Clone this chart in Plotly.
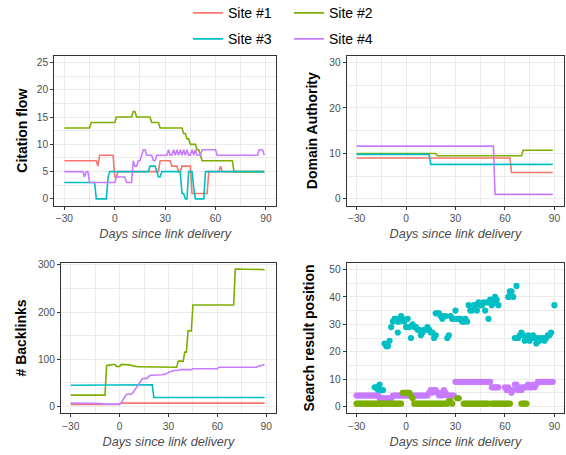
import plotly.graph_objects as go

# ---------------- data ----------------
days = list(range(-30, 90))
sites = ["Site #1", "Site #2", "Site #3", "Site #4"]
colors = ["#F8766D", "#7CAE00", "#00BFC4", "#C77CFF"]

# Citation flow (days -30..89)
cf_site1 = [7, 7, 7, 7, 7, 7, 7, 7, 7, 7,
            7, 7, 7, 7, 7, 7, 7, 7, 7, 7,
            6, 8, 8, 8, 8, 8, 8, 8, 8, 8,
            4, 4, 5, 5, 5, 5, 5, 5, 5, 5,
            5, 5, 5, 5, 5, 5, 5, 5, 5, 5,
            5, 5, 5, 5, 5, 5, 5, 7, 7, 7,
            7, 7, 7, 7, 6, 6, 6, 6, 5, 5,
            6, 6, 6, 6, 6, 6, 1, 1, 1, 1,
            1, 1, 1, 1, 1, 1, 5, 5, 5, 5,
            5, 5, 5, 6, 5, 5, 5, 5, 5, 5,
            5, 5, 5, 5, 5, 5, 5, 5, 5, 5,
            5, 5, 5, 5, 5, 5, 5, 5, 5, 5]
cf_site2 = [13, 13, 13, 13, 13, 13, 13, 13, 13, 13,
            13, 13, 13, 13, 13, 13, 14, 14, 14, 14,
            14, 14, 14, 14, 14, 14, 14, 14, 14, 14,
            14, 15, 15, 15, 15, 15, 15, 15, 15, 15,
            15, 16, 16, 15, 15, 15, 15, 15, 15, 15,
            15, 15, 14, 14, 14, 14, 14, 13, 13, 13,
            13, 13, 13, 13, 13, 13, 13, 13, 13, 13,
            13, 12, 12, 11, 11, 10, 10, 10, 10, 9,
            9, 8, 7, 7, 7, 7, 7, 7, 7, 7,
            7, 7, 7, 7, 7, 7, 7, 7, 7, 7,
            7, 5, 5, 5, 5, 5, 5, 5, 5, 5,
            5, 5, 5, 5, 5, 5, 5, 5, 5, 5]
cf_site3 = [3, 3, 3, 3, 3, 3, 3, 3, 3, 3,
            3, 3, 3, 3, 3, 3, 3, 3, 3, 0,
            0, 0, 0, 0, 0, 0, 4, 5, 5, 5,
            5, 5, 5, 5, 5, 5, 5, 5, 5, 5,
            5, 5, 5, 5, 5, 5, 5, 5, 5, 5,
            5, 6, 6, 6, 6, 5, 4, 4, 5, 5,
            5, 5, 5, 5, 5, 5, 5, 5, 5, 5,
            1, 1, 0, 0, 5, 5, 5, 2, 0, 0,
            0, 0, 0, 0, 5, 5, 5, 5, 5, 5,
            5, 5, 5, 5, 5, 5, 5, 5, 5, 5,
            5, 5, 5, 5, 5, 5, 5, 5, 5, 5,
            5, 5, 5, 5, 5, 5, 5, 5, 5, 5]
cf_site4 = [5, 5, 5, 5, 5, 5, 5, 5, 5, 5,
            5, 5, 4, 5, 5, 3, 3, 3, 3, 3,
            3, 3, 3, 3, 3, 3, 3, 3, 3, 3,
            3, 4, 4, 4, 4, 4, 4, 3, 3, 3,
            3, 7, 6, 6, 7, 7, 8, 9, 9, 8,
            8, 8, 8, 7, 7, 8, 8, 8, 8, 8,
            8, 8, 9, 8, 8, 9, 8, 9, 8, 9,
            8, 9, 8, 9, 8, 8, 9, 8, 9, 8,
            8, 8, 9, 9, 9, 9, 9, 9, 9, 9,
            9, 8, 8, 8, 8, 8, 8, 8, 8, 8,
            8, 8, 8, 8, 8, 8, 8, 8, 8, 8,
            8, 8, 8, 8, 8, 8, 9, 9, 9, 8]

# Domain Authority
da_site1 = [9, 9, 9, 9, 9, 9, 9, 9, 9, 9,
            9, 9, 9, 9, 9, 9, 9, 9, 9, 9,
            9, 9, 9, 9, 9, 9, 9, 9, 9, 9,
            9, 9, 9, 9, 9, 9, 9, 9, 9, 9,
            9, 9, 9, 9, 9, 9, 9, 9, 9, 9,
            9, 9, 9, 9, 9, 9, 9, 9, 9, 9,
            9, 9, 9, 9, 9, 9, 9, 9, 9, 9,
            9, 9, 9, 9, 9, 9, 9, 9, 9, 9,
            9, 9, 9, 9, 9, 9, 9, 9, 9, 9,
            9, 9, 9, 9, 5.8, 5.8, 5.8, 5.8, 5.8, 5.8,
            5.8, 5.8, 5.8, 5.8, 5.8, 5.8, 5.8, 5.8, 5.8, 5.8,
            5.8, 5.8, 5.8, 5.8, 5.8, 5.8, 5.8, 5.8, 5.8, 5.8]
da_site2 = [10, 10, 10, 10, 10, 10, 10, 10, 10, 10,
            10, 10, 10, 10, 10, 10, 10, 10, 10, 10,
            10, 10, 10, 10, 10, 10, 10, 10, 10, 10,
            10, 10, 10, 10, 10, 10, 10, 10, 10, 10,
            10, 10, 10, 10, 10, 10, 10, 10, 10, 9.5,
            9.5, 9.5, 9.5, 9.5, 9.5, 9.5, 9.5, 9.5, 9.5, 9.5,
            9.5, 9.5, 9.5, 9.5, 9.5, 9.5, 9.5, 9.5, 9.5, 9.5,
            9.5, 9.5, 9.5, 9.5, 9.5, 9.5, 9.5, 9.5, 9.5, 9.5,
            9.5, 9.5, 9.5, 9.5, 9.5, 9.5, 9.5, 9.5, 9.5, 9.5,
            9.5, 9.5, 9.5, 9.5, 9.5, 9.5, 9.5, 9.5, 9.5, 9.5,
            9.5, 10.7, 10.7, 10.7, 10.7, 10.7, 10.7, 10.7, 10.7, 10.7,
            10.7, 10.7, 10.7, 10.7, 10.7, 10.7, 10.7, 10.7, 10.7, 10.7]
da_site3 = [9.8, 9.8, 9.8, 9.8, 9.8, 9.8, 9.8, 9.8, 9.8, 9.8,
            9.8, 9.8, 9.8, 9.8, 9.8, 9.8, 9.8, 9.8, 9.8, 9.8,
            9.8, 9.8, 9.8, 9.8, 9.8, 9.8, 9.8, 9.8, 9.8, 9.8,
            9.8, 9.8, 9.8, 9.8, 9.8, 9.8, 9.8, 9.8, 9.8, 9.8,
            9.8, 9.8, 9.8, 9.8, 9.8, 7.6, 7.6, 7.6, 7.6, 7.6,
            7.6, 7.6, 7.6, 7.6, 7.6, 7.6, 7.6, 7.6, 7.6, 7.6,
            7.6, 7.6, 7.6, 7.6, 7.6, 7.6, 7.6, 7.6, 7.6, 7.6,
            7.6, 7.6, 7.6, 7.6, 7.6, 7.6, 7.6, 7.6, 7.6, 7.6,
            7.6, 7.6, 7.6, 7.6, 7.6, 7.6, 7.6, 7.6, 7.6, 7.6,
            7.6, 7.6, 7.6, 7.6, 7.6, 7.6, 7.6, 7.6, 7.6, 7.6,
            7.6, 7.6, 7.6, 7.6, 7.6, 7.6, 7.6, 7.6, 7.6, 7.6,
            7.6, 7.6, 7.6, 7.6, 7.6, 7.6, 7.6, 7.6, 7.6, 7.6]
da_site4 = [11.6, 11.6, 11.6, 11.6, 11.6, 11.6, 11.6, 11.6, 11.6, 11.6,
            11.6, 11.6, 11.6, 11.6, 11.6, 11.6, 11.6, 11.6, 11.6, 11.6,
            11.6, 11.6, 11.6, 11.6, 11.6, 11.6, 11.6, 11.6, 11.6, 11.6,
            11.6, 11.6, 11.6, 11.6, 11.6, 11.6, 11.6, 11.6, 11.6, 11.6,
            11.6, 11.6, 11.6, 11.6, 11.6, 11.6, 11.6, 11.6, 11.6, 11.6,
            11.6, 11.6, 11.6, 11.6, 11.6, 11.6, 11.6, 11.6, 11.6, 11.6,
            11.6, 11.6, 11.6, 11.6, 11.6, 11.6, 11.6, 11.6, 11.6, 11.6,
            11.6, 11.6, 11.6, 11.6, 11.6, 11.6, 11.6, 11.6, 11.6, 11.6,
            11.6, 11.6, 11.6, 11.6, 1, 1, 1, 1, 1, 1,
            1, 1, 1, 1, 1, 1, 1, 1, 1, 1,
            1, 1, 1, 1, 1, 1, 1, 1, 1, 1,
            1, 1, 1, 1, 1, 1, 1, 1, 1, 1]

# Number of backlinks
bl_site1 = [4, 4, 4, 4, 4, 4, 4, 4, 4, 4,
            4, 4, 4, 4, 4, 4, 4, 4, 4, 4,
            4, 4, 4, 4, 4, 4, 4, 4, 4, 4,
            4, 7, 7, 7, 7, 7, 7, 7, 7, 7,
            7, 7, 7, 7, 7, 7, 7, 7, 7, 7,
            7, 7, 7, 7, 7, 7, 7, 7, 7, 7,
            7, 7, 7, 7, 7, 7, 7, 7, 7, 7,
            7, 7, 7, 7, 7, 7, 7, 7, 7, 7,
            7, 7, 7, 7, 7, 7, 7, 7, 7, 7,
            7, 7, 7, 7, 7, 7, 7, 7, 7, 7,
            7, 7, 7, 7, 7, 7, 7, 7, 7, 7,
            7, 7, 7, 7, 7, 7, 7, 7, 7, 7]
bl_site2 = [24, 24, 24, 24, 24, 24, 24, 24, 24, 24,
            24, 24, 24, 24, 24, 24, 24, 24, 24, 24,
            24, 24, 87, 87, 88, 88, 89, 89, 85, 85,
            85, 89, 89, 89, 89, 89, 88, 87, 86, 85,
            84, 84, 84, 84, 84, 84, 84, 84, 84, 84,
            84, 83, 83, 83, 83, 83, 83, 83, 83, 83,
            83, 83, 83, 83, 83, 83, 96, 96, 96, 96,
            115, 115, 160, 160, 160, 215, 215, 215, 215, 215,
            215, 215, 215, 215, 215, 215, 215, 215, 215, 215,
            215, 215, 215, 215, 215, 215, 215, 215, 215, 215,
            215, 291, 291, 291, 291, 291, 291, 291, 291, 291,
            291, 290, 290, 290, 290, 290, 290, 290, 290, 289]
bl_site3 = [45, 45, 45, 45, 45, 45, 45, 45, 45, 45,
            45, 45, 45, 45, 45, 45, 45, 45, 45, 45,
            45, 45, 45, 45, 45, 45, 45, 45, 45, 45,
            46, 46, 46, 46, 46, 46, 46, 46, 46, 46,
            46, 46, 46, 46, 46, 46, 46, 46, 46, 46,
            46, 19, 19, 19, 19, 19, 19, 19, 19, 19,
            19, 19, 19, 19, 19, 19, 19, 19, 19, 19,
            19, 19, 19, 19, 19, 19, 19, 19, 19, 19,
            19, 19, 19, 19, 19, 19, 19, 19, 19, 19,
            19, 19, 19, 19, 19, 19, 19, 19, 19, 19,
            19, 19, 19, 19, 19, 19, 19, 19, 19, 19,
            19, 19, 19, 19, 19, 19, 19, 19, 19, 19]
bl_site4 = [7, 7, 7, 7, 7, 7, 7, 7, 7, 7,
            6, 6, 6, 6, 6, 6, 6, 6, 6, 6,
            5, 5, 5, 5, 5, 5, 5, 5, 5, 5,
            5, 8, 14, 20, 25, 26, 26, 26, 28, 33,
            37, 42, 47, 53, 59, 59, 59, 60, 64, 66,
            66, 66, 67, 67, 67, 67, 67, 68, 68, 70,
            72, 74, 74, 76, 76, 76, 76, 78, 78, 78,
            78, 78, 78, 78, 78, 80, 80, 80, 80, 80,
            80, 80, 80, 80, 80, 80, 80, 80, 80, 80,
            80, 83, 83, 83, 83, 83, 83, 83, 83, 83,
            83, 83, 83, 83, 83, 83, 83, 83, 83, 83,
            83, 83, 83, 83, 83, 85, 86, 87, 88, 89]

# Search result position (None = not ranked that day)
N = None
srp_site2 = [1, 1, 1, 1, 1, 1, 1, 1, 1, 1,
             1, 1, 1, 1, 1, 1, 1, 1, 1, 1,
             1, 1, 1, 1, 1, 1, 1, 1, 5, 5,
             5, 5, 5, 4, 3, 1, 1, 1, 1, 1,
             1, 1, 1, 1, 1, 1, 1, 1, 1, 1,
             1, 1, 1, 1, 1, 1, 2, 2, 1, N,
             N, 3, 3, N, N, 1, 1, 1, 1, 1,
             1, 1, 1, 1, 1, 1, 1, 1, 1, 1,
             1, N, 1, 1, 1, 1, 1, 1, 1, 1,
             1, 1, 1, 1, N, N, N, N, N, N,
             1, 1, 1, 1, N, N, N, N, N, N,
             N, N, N, N, N, N, N, N, N, N]
srp_site4 = [4, 4, 4, 4, 4, 4, 4, 4, 4, 4,
             4, 4, 4, 4, 3, 3, 3, 3, 3, 3,
             3, 3, 4, 4, 4, 4, 4, 4, 4, 4,
             4, 4, 4, 4, 4, 4, 4, 4, 4, 4,
             4, 4, 4, 4, 5, 6, 5, 6, 6, 5,
             4, 5, 4, 6, 5, 4, 4, 4, 4, 4,
             9, 9, 9, 9, 9, 9, 9, 9, 9, 9,
             9, 9, 9, 9, 9, 9, 9, 9, 9, 9,
             9, 9, 7, 7, 7, 7, 7, N, N, N,
             7, 6, 7, 6, 5, 6, 8, 8, 6, 7,
             6, 7, 7, 7, 8, 7, 7, 8, 7, 8,
             9, 9, 9, 9, 9, 9, 9, 9, 9, 9]
srp3_days = [-19, -18, -17, -16, -15, -14, -13, -12, -11, -10,
             -9, -8, -7, -6, -5, -5, -4, -3, -2, -1,
             0, 1, 2, 3, 4, 5, 6, 7, 8, 9,
             10, 11, 12, 13, 14, 15, 16, 17, 18, 18,
             19, 20, 21, 22, 23, 24, 25, 26, 27, 28,
             29, 30, 31, 32, 33, 34, 35, 36, 37, 38,
             39, 40, 41, 42, 43, 44, 45, 46, 47, 48,
             49, 50, 51, 52, 53, 54, 55, 56, 62, 63,
             64, 65, 66, 67, 68, 69, 70, 71, 72, 73,
             74, 75, 76, 77, 78, 79, 80, 81, 82, 83,
             84, 85, 86, 87, 88, 90]
srp3_vals = [7, 7, 6, 8, 6, 6, 23, 22, 22, 24,
             29, 31, 32, 32, 27, 31, 31, 33, 32, 31,
             29, 32, 29, 25, 30, 29, 29, 28, 28, 26,
             27, 28, 28, 29, 28, 27, 27, 25, 26, 34,
             34, 34, 33, 32, 33, 33, 25, 26, 33, 32,
             32, 35, 32, 32, 32, 31, 31, 32, 31, 37,
             35, 35, 37, 37, 35, 38, 37, 37, 38, 35,
             38, 32, 39, 37, 38, 40, 39, 37, 40, 42,
             42, 40, 25, 44, 25, 26, 27, 26, 24, 25,
             26, 24, 25, 26, 25, 23, 25, 24, 25, 25,
             24, 25, 26, 26, 27, 37]

x_ticks = [-30, 0, 30, 60, 90]
x_minor = [-15, 15, 45, 75]

# ---------------- figure ----------------
W, H = 566, 455
FONT = "Liberation Sans, Arial, Helvetica, sans-serif"
GRID = "#EBEBEB"
DARK = "#333333"
TXT = "#4D4D4D"


def dom_x(a, b):
    return [a / W, b / W]


def dom_y(top, bottom):
    return [1 - bottom / H, 1 - top / H]


fig = go.Figure()

line_sets = [
    ("x", "y", [cf_site1, cf_site2, cf_site3, cf_site4], True),
    ("x2", "y2", [da_site1, da_site2, da_site3, da_site4], False),
    ("x3", "y3", [bl_site1, bl_site2, bl_site3, bl_site4], False),
]
for xa, ya, series, show in line_sets:
    for i, vals in enumerate(series):
        fig.add_trace(go.Scatter(
            x=days, y=vals, mode="lines", name=sites[i],
            line=dict(color=colors[i], width=1.6),
            xaxis=xa, yaxis=ya, showlegend=show,
            legend="legend" if i < 2 else "legend2",
            hoverinfo="skip"))

mk = 6.2
fig.add_trace(go.Scatter(x=srp3_days, y=srp3_vals, mode="markers", name=sites[2],
                         marker=dict(color=colors[2], size=mk), xaxis="x4", yaxis="y4",
                         showlegend=False))
fig.add_trace(go.Scatter(x=days, y=srp_site4, mode="markers", name=sites[3],
                         marker=dict(color=colors[3], size=mk), xaxis="x4", yaxis="y4",
                         showlegend=False))
fig.add_trace(go.Scatter(x=days, y=srp_site2, mode="markers", name=sites[1],
                         marker=dict(color=colors[1], size=mk), xaxis="x4", yaxis="y4",
                         showlegend=False))

common = dict(showline=True, mirror=True, linecolor=DARK, linewidth=1.1,
              ticks="outside", ticklen=3, tickwidth=1.1, tickcolor=DARK,
              showgrid=True, gridcolor=GRID, gridwidth=1.1, zeroline=False,
              tickfont=dict(family=FONT, size=10.2, color=TXT))


def xaxis(domain, anchor):
    return dict(common, domain=domain, anchor=anchor, range=[-36, 96],
                tickvals=x_ticks,
                minor=dict(tickvals=x_minor, showgrid=True, gridcolor=GRID, gridwidth=0.6),
                title=dict(text="Days since link delivery", standoff=6,
                           font=dict(family=FONT, size=12.7, color=TXT, style="italic")))


def yaxis(domain, anchor, rng, ticks, minor, title, standoff):
    return dict(common, domain=domain, anchor=anchor, range=rng, tickvals=ticks,
                minor=dict(tickvals=minor, showgrid=True, gridcolor=GRID, gridwidth=0.6),
                title=dict(text=title, standoff=standoff,
                           font=dict(family=FONT, size=14, color="black", weight="bold")))


top_row = dom_y(55.7, 205.7)
bot_row = dom_y(262.7, 413.3)

legend_common = dict(orientation="h", x=188 / W, xanchor="left", yanchor="middle",
                     font=dict(family=FONT, size=14, color="black"), entrywidth=56,
                     entrywidthmode="pixels", bgcolor="rgba(0,0,0,0)", itemwidth=30)

fig.update_layout(
    width=W, height=H,
    margin=dict(l=0, r=0, t=0, b=0, autoexpand=False),
    paper_bgcolor="white", plot_bgcolor="white",
    font=dict(family=FONT, size=10.2, color=TXT),
    xaxis=xaxis(dom_x(54.3, 276), "y"),
    yaxis=yaxis(top_row, "x", [-1.25, 26.25], [0, 5, 10, 15, 20, 25],
                [2.5, 7.5, 12.5, 17.5, 22.5], "Citation flow", 5),
    xaxis2=xaxis(dom_x(346.7, 564.3), "y2"),
    yaxis2=yaxis(top_row, "x2", [-1.5, 31.5], [0, 10, 20, 30],
                 [5, 15, 25], "Domain Authority", 8),
    xaxis3=xaxis(dom_x(61, 276), "y3"),
    yaxis3=yaxis(bot_row, "x3", [-14.5, 304.5], [0, 100, 200, 300],
                 [50, 150, 250], "# Backlinks", 8),
    xaxis4=xaxis(dom_x(346.7, 564.3), "y4"),
    yaxis4=yaxis(bot_row, "x4", [-2.5, 52.5], [0, 10, 20, 30, 40, 50],
                 [5, 15, 25, 35, 45], "Search result position", 11),
    legend=dict(legend_common, y=1 - 13.3 / H),
    legend2=dict(legend_common, y=1 - 39.3 / H),
)

fig.write_html("out.html", config={"displayModeBar": False},
               post_script="document.body.style.margin='0px';document.body.style.overflow='hidden';")
